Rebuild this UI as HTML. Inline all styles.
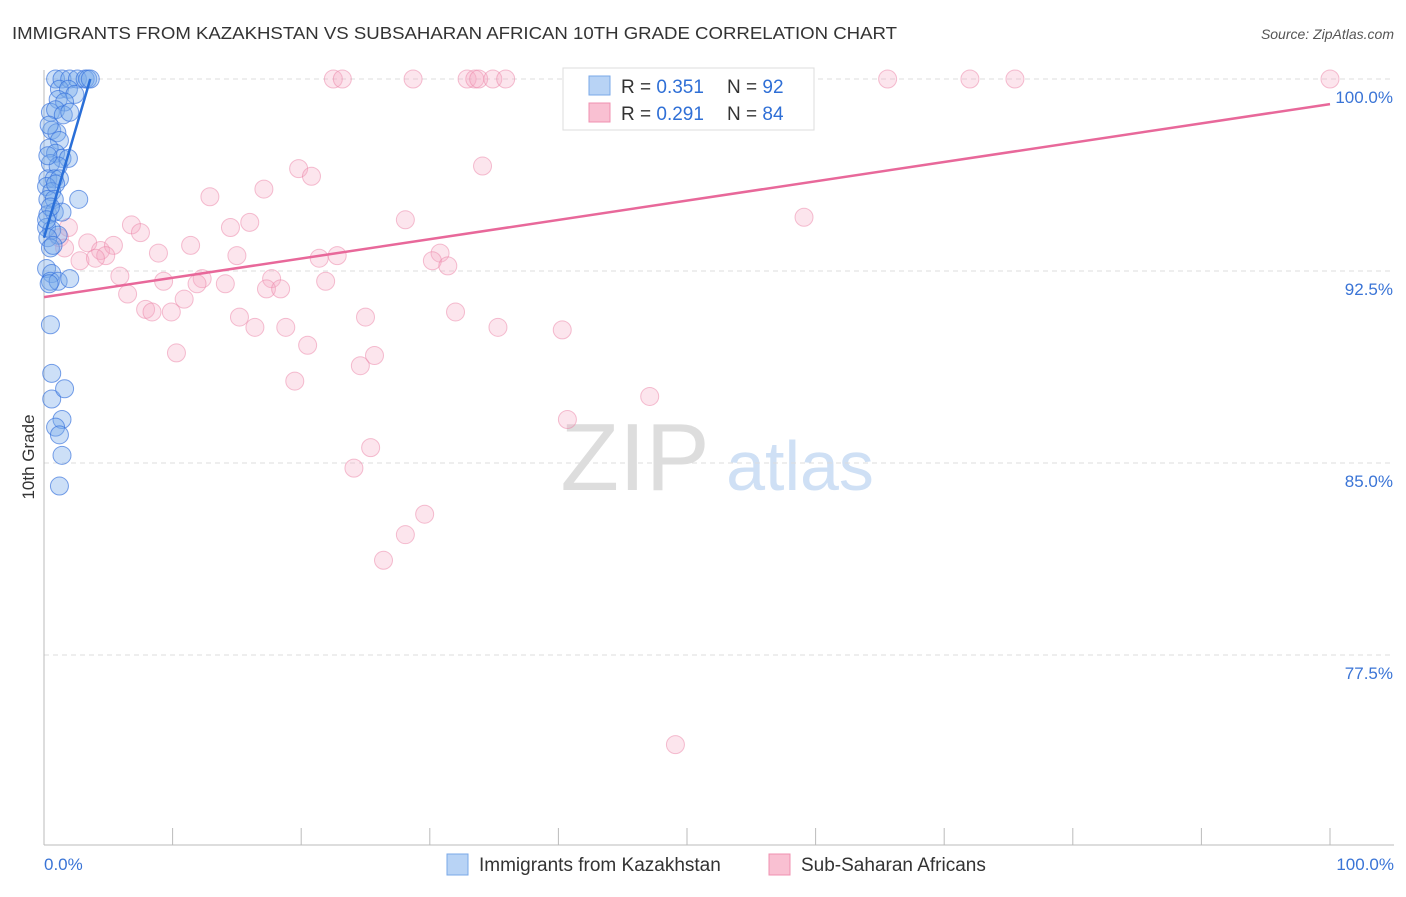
<!DOCTYPE html>
<html><head><meta charset="utf-8"><style>
body{margin:0;background:#fff;font-family:"Liberation Sans",sans-serif;}
svg text{font-family:"Liberation Sans",sans-serif;}
</style></head><body>
<svg id="c" width="1406" height="892" xmlns="http://www.w3.org/2000/svg">
<text x="12" y="39" font-size="17.5" fill="#333" textLength="885" lengthAdjust="spacingAndGlyphs">IMMIGRANTS FROM KAZAKHSTAN VS SUBSAHARAN AFRICAN 10TH GRADE CORRELATION CHART</text>
<text x="1394" y="39" font-size="14" fill="#555" text-anchor="end" font-style="italic">Source: ZipAtlas.com</text>
<text x="34" y="457" font-size="17" fill="#333" text-anchor="middle" transform="rotate(-90 34 457)">10th Grade</text>
<text x="635" y="490" font-size="96" fill="#ddd" font-family="Liberation Serif" text-anchor="middle">ZIP</text>
<text x="800" y="490" font-size="70" fill="#cfe0f5" text-anchor="middle">atlas</text>
<g id="grid"></g><g id="pts"></g><g id="lines"></g>
<g>
<rect x="563" y="68" width="251" height="62" fill="#fff" stroke="#ddd"/>
<rect x="589" y="76" width="21" height="19" fill="#b8d3f5" stroke="#7aa8e8"/>
<rect x="589" y="103" width="21" height="19" fill="#f9c0d2" stroke="#f090b0"/>
<text x="621" y="93" font-size="19" fill="#333">R = <tspan fill="#2f6fd6">0.351</tspan></text>
<text x="727" y="93" font-size="19" fill="#333">N = <tspan fill="#2f6fd6">92</tspan></text>
<text x="621" y="120" font-size="19" fill="#333">R = <tspan fill="#2f6fd6">0.291</tspan></text>
<text x="727" y="120" font-size="19" fill="#333">N = <tspan fill="#2f6fd6">84</tspan></text>
</g>
<g>
<rect x="447" y="854" width="21" height="21" fill="#b8d3f5" stroke="#7aa8e8"/>
<text x="479" y="871" font-size="19" fill="#333">Immigrants from Kazakhstan</text>
<rect x="769" y="854" width="21" height="21" fill="#f9c0d2" stroke="#f090b0"/>
<text x="801" y="871" font-size="19" fill="#333">Sub-Saharan Africans</text>
</g>
</svg>
<script>
const yTicks=[100,92.5,85,77.5];
const yTickLabels=["100.0%","92.5%","85.0%","77.5%"];
const xTickLabels=["0.0%","100.0%"];
const blueX=[0.9,1.4,2.0,2.6,3.2,3.4,3.6,1.2,1.9,2.4,1.1,1.6,0.5,0.9,1.5,2.0,0.6,1.0,1.2,0.4,0.9,1.4,1.9,0.5,1.1,0.3,0.8,1.2,0.2,0.6,0.9,0.3,0.8,2.7,0.3,0.8,1.4,0.2,0.6,1.1,0.3,0.5,0.2,0.6,0.5,1.1,2.0,0.5,0.6,0.6,1.6,1.4,0.9,1.2,1.4,1.2,0.3,0.5,0.7,0.4,0.2,0.4];
const blueY=[100,100,100,100,100,100,100,99.6,99.6,99.4,99.2,99.1,98.7,98.8,98.6,98.7,98.0,97.9,97.6,97.3,97.1,96.9,96.9,96.7,96.6,96.1,96.1,96.1,95.8,95.6,95.9,95.3,95.3,95.3,94.7,94.8,94.8,94.2,94.1,93.9,93.8,93.4,92.6,92.4,92.1,92.1,92.2,90.4,88.5,87.5,87.9,86.7,86.4,86.1,85.3,84.1,97.0,95.0,93.5,92.0,94.5,98.2];
const pinkX=[42.3,48.5,54.5,65.6,72.0,75.5,100,22.5,23.2,28.7,32.9,33.5,33.8,34.9,35.9,41.7,55.4,19.8,20.8,34.1,17.1,12.9,16.0,6.8,7.5,14.5,28.1,59.1,1.9,1.2,1.6,3.4,4.4,5.4,4.8,8.9,11.4,15.0,21.4,22.8,30.8,30.2,31.4,2.8,4.0,5.9,9.3,12.3,14.1,11.9,17.7,17.3,18.4,21.9,6.5,10.9,7.9,8.4,9.9,15.2,16.4,18.8,25.0,32.0,35.3,40.3,20.5,10.3,25.7,24.6,19.5,47.1,40.7,25.4,24.1,29.6,28.1,26.4,49.1];
const pinkY=[100,100,100,100,100,100,100,100,100,100,100,100,100,100,100,99.2,99.2,96.5,96.2,96.6,95.7,95.4,94.4,94.3,94.0,94.2,94.5,94.6,94.2,93.8,93.4,93.6,93.3,93.5,93.1,93.2,93.5,93.1,93.0,93.1,93.2,92.9,92.7,92.9,93.0,92.3,92.1,92.2,92.0,92.0,92.2,91.8,91.8,92.1,91.6,91.4,91.0,90.9,90.9,90.7,90.3,90.3,90.7,90.9,90.3,90.2,89.6,89.3,89.2,88.8,88.2,87.6,86.7,85.6,84.8,83.0,82.2,81.2,74.0];
const blueTrend=[[0,93.8],[3.6,100]];
const pinkTrend=[[0,91.48],[100,99.02]];
const X=v=>44+v*12.86, Y=v=>79+(100-v)*25.6;
const NS="http://www.w3.org/2000/svg";
function mk(t,a,p){const e=document.createElementNS(NS,t);for(const k in a)e.setAttribute(k,a[k]);p.appendChild(e);return e;}
const g=document.getElementById('grid');
yTicks.forEach((t,i)=>{
 const l=mk('line',{x1:44,x2:1394,y1:Y(t),y2:Y(t),stroke:'#ddd','stroke-dasharray':'5,4'},g);
 
 
 const tx=mk('text',{x:1393,y:Y(t)+24,'font-size':17,fill:'#3a74d6','text-anchor':'end'},g);
 tx.textContent=yTickLabels[i];
 
 
});
const ax=mk('line',{x1:44,x2:44,y1:70,y2:845,stroke:'#bbb'},g);


const bx=mk('line',{x1:44,x2:1394,y1:845,y2:845,stroke:'#bbb'},g);


for(let i=0;i<=10;i++){
 const t=mk('line',{x1:X(i*10),x2:X(i*10),y1:828,y2:845,stroke:'#bbb'},g);
 
 
}
[[0,'start',44],[100,'end',1394]].forEach((d,i)=>{
 const t=mk('text',{x:d[2],y:870,'font-size':17,fill:'#3a74d6','text-anchor':d[1]},g);
 t.textContent=xTickLabels[i];
 
 
});
const p=document.getElementById('pts');
pinkX.forEach((x,i)=>{
 const c=mk('circle',{cx:X(x),cy:Y(pinkY[i]),r:9,fill:'rgba(245,170,195,0.3)',stroke:'rgba(235,130,165,0.5)','stroke-width':1},p);
 
 
});
blueX.forEach((x,i)=>{
 const c=mk('circle',{cx:X(x),cy:Y(blueY[i]),r:9,fill:'rgba(120,170,235,0.38)',stroke:'rgba(50,110,220,0.65)','stroke-width':1},p);
 
 
});
const L=document.getElementById('lines');
const pl=mk('line',{x1:X(pinkTrend[0][0]),y1:Y(pinkTrend[0][1]),x2:X(pinkTrend[1][0]),y2:Y(pinkTrend[1][1]),stroke:'#e8689a','stroke-width':2.5},L);


const bl=mk('line',{x1:X(blueTrend[0][0]),y1:Y(blueTrend[0][1]),x2:X(blueTrend[1][0]),y2:Y(blueTrend[1][1]),stroke:'#2a6fd8','stroke-width':2.5},L);


</script>
</body></html>
